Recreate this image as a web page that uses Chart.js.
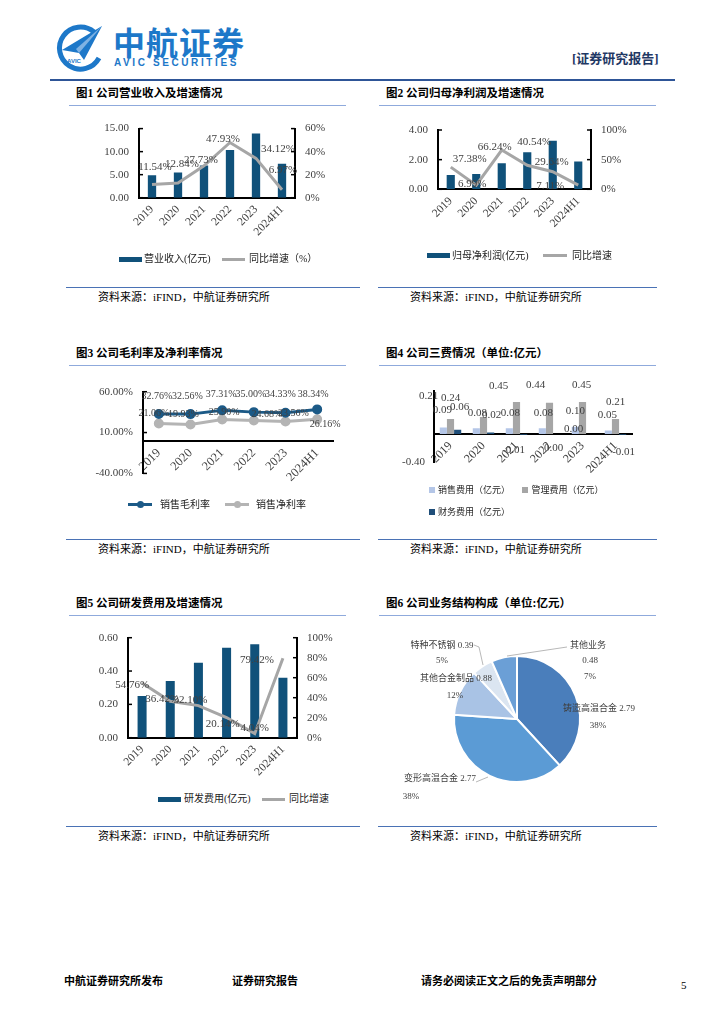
<!DOCTYPE html>
<html>
<head>
<meta charset="utf-8">
<script src="https://cdn.jsdelivr.net/npm/chart.js@4.4.1/dist/chart.umd.min.js"></script>
<style>
body{margin:0;width:724px;height:1024px;position:relative;background:#fff;overflow:hidden;
  font-family:"Liberation Serif","Noto Sans CJK SC",serif;color:#000}
.a{position:absolute;white-space:nowrap}
.t{font-weight:bold;font-size:11.5px;line-height:14px}
.src{font-size:11px;line-height:14px}
.lg{font-size:10px;line-height:12px;color:#222}
.rule{position:absolute;height:0}
.lt{border-top:1.5px solid #8faadc}
.dk{border-top:1px solid #4a72b5}
canvas{position:absolute}
.sw{position:absolute}
.dot{position:absolute;width:7px;height:7px;border-radius:50%}
.foot{font-size:11px;line-height:14px;font-weight:bold}
</style>
</head>
<body>

<!-- header -->
<svg class="a" style="left:54px;top:22px" width="52" height="52" viewBox="0 0 52 52">
  <path d="M40 10 A21 21 0 1 0 45 36" fill="none" stroke="#1d78c9" stroke-width="5"/>
  <path d="M8 28 L48 4 L30 38 L25 31 Z" fill="#1d78c9"/>
  <path d="M25 31 L48 4 L22 27 Z" fill="#7fb2e3"/>
  <text x="13" y="41" font-size="6" font-family="Liberation Sans" font-weight="bold" fill="#1d78c9">AVIC</text>
</svg>
<div class="a" style="left:113px;top:24px;font-family:'Noto Sans CJK SC';font-weight:bold;font-size:32px;line-height:34px;letter-spacing:1px;color:#1d78c9">中航证券</div>
<div class="a" style="left:114px;top:57px;font-family:'Liberation Sans';font-weight:bold;font-size:10px;line-height:12px;letter-spacing:2.6px;color:#1d78c9">AVIC SECURITIES</div>
<div class="a" style="left:572px;top:51px;font-weight:bold;font-size:13px;line-height:16px;color:#1f3864">[证券研究报告]</div>
<div class="rule" style="left:50px;top:79px;width:625px;border-top:2px solid #2e5597"></div>

<!-- titles -->
<div class="a t" style="left:76px;top:86px">图1 公司营业收入及增速情况</div>
<div class="a t" style="left:386px;top:86px">图2 公司归母净利润及增速情况</div>
<div class="a t" style="left:76px;top:346px">图3 公司毛利率及净利率情况</div>
<div class="a t" style="left:386px;top:346px">图4 公司三费情况（单位:亿元）</div>
<div class="a t" style="left:76px;top:596px">图5 公司研发费用及增速情况</div>
<div class="a t" style="left:386px;top:596px">图6 公司业务结构构成（单位:亿元）</div>

<div class="rule lt" style="left:69px;top:105px;width:277px"></div>
<div class="rule lt" style="left:379px;top:105px;width:277px"></div>
<div class="rule lt" style="left:69px;top:365px;width:277px"></div>
<div class="rule lt" style="left:379px;top:365px;width:277px"></div>
<div class="rule lt" style="left:69px;top:615px;width:277px"></div>
<div class="rule lt" style="left:379px;top:615px;width:277px"></div>

<!-- charts -->
<canvas id="c1" width="300" height="140" style="left:60px;top:112px"></canvas>
<canvas id="c2" width="300" height="140" style="left:370px;top:112px"></canvas>
<canvas id="c3" width="290" height="115" style="left:60px;top:375px"></canvas>
<canvas id="c4" width="290" height="103" style="left:370px;top:375px"></canvas>
<canvas id="c5" width="300" height="165" style="left:60px;top:620px"></canvas>
<canvas id="c6" width="250" height="170" style="left:395px;top:635px"></canvas>

<!-- legends -->
<div class="sw" style="left:119px;top:256.5px;width:23px;height:5px;background:#10517a"></div>
<div class="a lg" style="left:144px;top:253px">营业收入(亿元)</div>
<div class="sw" style="left:222px;top:257.5px;width:23px;height:3px;background:#a6a6a6"></div>
<div class="a lg" style="left:249px;top:253px">同比增速（%）</div>

<div class="sw" style="left:427px;top:253px;width:23px;height:5px;background:#10517a"></div>
<div class="a lg" style="left:452px;top:249.5px">归母净利润(亿元)</div>
<div class="sw" style="left:543px;top:254px;width:24px;height:3px;background:#a6a6a6"></div>
<div class="a lg" style="left:572px;top:249.5px">同比增速</div>

<div class="sw" style="left:128px;top:503px;width:24px;height:3px;background:#1c5a87"></div>
<div class="dot" style="left:136.5px;top:501px;background:#1c5a87"></div>
<div class="a lg" style="left:160px;top:498.5px">销售毛利率</div>
<div class="sw" style="left:225px;top:503px;width:24px;height:3px;background:#b4b4b4"></div>
<div class="dot" style="left:233.5px;top:501px;background:#b4b4b4"></div>
<div class="a lg" style="left:256px;top:498.5px">销售净利率</div>

<div class="sw" style="left:429px;top:487px;width:6px;height:6px;background:#b4c6e7"></div>
<div class="a lg" style="left:438px;top:484px;font-size:9px">销售费用（亿元）</div>
<div class="sw" style="left:522px;top:487px;width:6px;height:6px;background:#a6a6a6"></div>
<div class="a lg" style="left:531.5px;top:484px;font-size:9px">管理费用（亿元）</div>
<div class="sw" style="left:429px;top:508.5px;width:6px;height:6px;background:#1f4e79"></div>
<div class="a lg" style="left:438px;top:505.5px;font-size:9px">财务费用（亿元）</div>

<div class="sw" style="left:158px;top:796.5px;width:23px;height:5px;background:#10517a"></div>
<div class="a lg" style="left:184px;top:793px">研发费用(亿元)</div>
<div class="sw" style="left:262px;top:797.5px;width:23px;height:3px;background:#a6a6a6"></div>
<div class="a lg" style="left:289px;top:793px">同比增速</div>

<!-- sources -->
<div class="rule dk" style="left:66px;top:287px;width:294px"></div>
<div class="rule dk" style="left:378px;top:287px;width:279px"></div>
<div class="rule dk" style="left:66px;top:539px;width:294px"></div>
<div class="rule dk" style="left:378px;top:539px;width:279px"></div>
<div class="rule dk" style="left:66px;top:826px;width:294px"></div>
<div class="rule dk" style="left:378px;top:826px;width:279px"></div>
<div class="a src" style="left:98px;top:290px">资料来源：iFIND，中航证券研究所</div>
<div class="a src" style="left:410px;top:290px">资料来源：iFIND，中航证券研究所</div>
<div class="a src" style="left:98px;top:542px">资料来源：iFIND，中航证券研究所</div>
<div class="a src" style="left:410px;top:542px">资料来源：iFIND，中航证券研究所</div>
<div class="a src" style="left:98px;top:829px">资料来源：iFIND，中航证券研究所</div>
<div class="a src" style="left:410px;top:829px">资料来源：iFIND，中航证券研究所</div>

<!-- footer -->
<div class="a foot" style="left:64px;top:974px">中航证券研究所发布</div>
<div class="a foot" style="left:232px;top:974px">证券研究报告</div>
<div class="a foot" style="left:421px;top:974px">请务必阅读正文之后的免责声明部分</div>
<div class="a foot" style="left:681px;top:978px;font-weight:normal">5</div>

<script>
// ---- data ----
const years = ['2019', '2020', '2021', '2022', '2023', '2024H1'];
const revenue = [4.87, 5.49, 7.01, 10.37, 13.91, 7.35];
const revenueGrowth = [11.54, 12.84, 27.73, 47.93, 34.12, 6.97];
const netProfit = [0.97, 1.04, 1.76, 2.50, 3.27, 1.87];
const netProfitGrowth = [37.38, 6.99, 66.24, 40.54, 29.64, 7.11];
const grossMargin = [32.76, 32.56, 37.31, 35.00, 34.33, 38.34];
const netMargin = [21.06, 19.93, 25.90, 24.68, 23.56, 26.16];
const sellingExp = [0.09, 0.08, 0.08, 0.08, 0.10, 0.05];
const adminExp = [0.21, 0.24, 0.45, 0.44, 0.45, 0.21];
const financeExp = [0.06, 0.02, -0.01, 0.00, 0.00, -0.01];
const rdExp = [0.25, 0.34, 0.45, 0.54, 0.56, 0.36];
const rdGrowth = [54.76, 36.42, 32.10, 20.14, 4.04, 79.42];
const segNames = ['铸造高温合金', '变形高温合金', '其他合金制品', '特种不锈钢', '其他业务'];
const segValues = [2.79, 2.77, 0.88, 0.39, 0.48];

// label nudges (px), kept apart from the values
const c1Shift = [[3,-17],[4,-19],[-3,-6],[-7,-3],[22,-9],[1,-20]];
const c2Shift = [[19,-8],[-4,-1],[-7,-3],[7,-23],[-1,-10],[-28,1]];
const c3GrossShift = [[-2,-18],[-3,-18],[-1,-16],[-3,-18],[-5,-18],[-4,-15]];
const c3NetShift = [[-5,-10],[-7,-10],[2,-7],[13,-6],[8,-8],[8,5]];
const c4SellShift = [[-1,-17],[1,-15],[1,-15],[1,-15],[0,-16],[-1,-15]];
const c4AdminShift = [[-22,-23],[-33,-19],[-18,-16],[-14,-18],[-1,-17],[0,-17]];
const c4FinShift = [[2,-23],[1,-17],[-10,15],[-3,14],[-16,-5],[1,17]];
const c5Shift = [[-10,2],[-8,-2],[-8,-5],[-4,7],[0,-6],[-26,2]];
// pie label lines, relative to the pie centre
const pieTextPos = [
  [[82,-10],[81,7]],
  [[-77,60],[-106,78]],
  [[-61,-40],[-62,-23]],
  [[-75,-73],[-75,-58]],
  [[71,-73],[73,-58],[73,-42]]
];
const pieLeaders = [
  null,
  [[-41,63],[-29,58]],
  null,
  [[-43,-74],[-38,-72],[-34,-54]],
  [[50,-72],[-10,-63]]
];

const serif = '"Liberation Serif","Noto Sans CJK SC",serif';
const barBlue = '#10517a', lineGray = '#a6a6a6', txt = '#404040';
Chart.defaults.font.family = serif;
Chart.defaults.font.size = 11;
Chart.defaults.color = txt;

const fitTo = v => s => { if (s.isHorizontal()) s.height = v; else s.width = v; };

// tick marks drawn inward from the y axes
const innerTicks = {
  id: 'innerTicks',
  afterDraw(chart, args, opts) {
    if (!opts.len) return;
    const {ctx, chartArea} = chart;
    ctx.save();
    ctx.strokeStyle = '#000';
    ctx.lineWidth = 1.5;
    Object.values(chart.scales).forEach(s => {
      if (s.isHorizontal()) return;
      const left = s.position === 'left';
      const x = left ? chartArea.left : chartArea.right;
      s.ticks.forEach((t, i) => {
        const y = s.getPixelForTick(i);
        ctx.beginPath();
        ctx.moveTo(x, y);
        ctx.lineTo(x + (left ? 1 : -1) * opts.len, y);
        ctx.stroke();
      });
    });
    ctx.restore();
  }
};

// value labels next to points / bar ends
const valueLabels = {
  id: 'valueLabels',
  afterDatasetsDraw(chart) {
    const ctx = chart.ctx;
    chart.data.datasets.forEach((ds, di) => {
      if (!ds.valueText) return;
      const meta = chart.getDatasetMeta(di);
      ctx.save();
      ctx.font = ds.textFont || ('11px ' + serif);
      ctx.fillStyle = txt;
      ctx.textAlign = 'center';
      ctx.textBaseline = 'middle';
      meta.data.forEach((el, i) => {
        const sh = (ds.textShift && ds.textShift[i]) || [0, -12];
        ctx.fillText(ds.valueText[i], el.x + sh[0], el.y + sh[1]);
      });
      ctx.restore();
    });
  }
};

const pieLabels = {
  id: 'pieLabels',
  afterDatasetsDraw(chart) {
    const ctx = chart.ctx;
    const arc = chart.getDatasetMeta(0).data[0];
    const cx = arc.x, cy = arc.y;
    const vals = chart.data.datasets[0].data;
    const total = vals.reduce((a, b) => a + b, 0);
    ctx.save();
    ctx.strokeStyle = '#a6a6a6';
    ctx.lineWidth = 0.8;
    pieLeaders.forEach(pts => {
      if (!pts) return;
      ctx.beginPath();
      pts.forEach((p, k) => k ? ctx.lineTo(cx + p[0], cy + p[1]) : ctx.moveTo(cx + p[0], cy + p[1]));
      ctx.stroke();
    });
    ctx.font = '9px ' + serif;
    ctx.fillStyle = txt;
    ctx.textAlign = 'center';
    ctx.textBaseline = 'middle';
    vals.forEach((v, i) => {
      const pct = Math.round(v / total * 100) + '%';
      const name = chart.data.labels[i];
      const lines = pieTextPos[i].length === 3
        ? [name, v.toFixed(2), pct]
        : [name + ' ' + v.toFixed(2), pct];
      lines.forEach((s, k) => ctx.fillText(s, cx + pieTextPos[i][k][0], cy + pieTextPos[i][k][1]));
    });
    ctx.restore();
  }
};

const blackBorder = {color: '#000', width: 2};
const noGrid = {display: false, drawTicks: false};

function xAxis(h, size) {
  return {
    grid: noGrid, border: blackBorder,
    ticks: {minRotation: 45, maxRotation: 45, autoSkip: false, padding: 5, color: txt, font: {size: size || 11.5}},
    afterFit: h == null ? undefined : fitTo(h)
  };
}

function comboChart(id, bars, line, o) {
  return new Chart(document.getElementById(id), {
    type: 'bar',
    data: {
      labels: years,
      datasets: [
        {type: 'line', data: line, yAxisID: 'y1', borderColor: lineGray, borderWidth: 3,
         pointRadius: 0, order: 0, valueText: line.map(v => v.toFixed(2) + '%'), textShift: o.shift},
        {data: bars, backgroundColor: barBlue, yAxisID: 'y', categoryPercentage: 0.8, barPercentage: 0.4, order: 1}
      ]
    },
    options: {
      responsive: false, animation: false,
      layout: {padding: {top: o.top}},
      plugins: {legend: {display: false}, tooltip: {enabled: false}, innerTicks: {len: 4}},
      scales: {
        x: xAxis(o.xh),
        y: {position: 'left', min: 0, max: o.ymax, grid: noGrid, border: blackBorder,
            ticks: {stepSize: o.ystep, padding: 10, callback: v => v.toFixed(2)}, afterFit: fitTo(o.yw)},
        y1: {position: 'right', min: 0, max: o.y1max, grid: noGrid, border: blackBorder,
             ticks: {stepSize: o.y1step, padding: 10, callback: v => v + '%'}, afterFit: fitTo(o.y1w)}
      }
    },
    plugins: [innerTicks, valueLabels]
  });
}

comboChart('c1', revenue, revenueGrowth, {top: 15.7, xh: 54.3, yw: 79, y1w: 65, ymax: 15, ystep: 5, y1max: 60, y1step: 20, shift: c1Shift});
comboChart('c2', netProfit, netProfitGrowth, {top: 18, xh: 62.7, yw: 68, y1w: 79, ymax: 4, ystep: 2, y1max: 100, y1step: 50, shift: c2Shift});
comboChart('c5', rdExp, rdGrowth, {top: 17.7, xh: 47.3, yw: 68, y1w: 63, ymax: 0.6, ystep: 0.2, y1max: 100, y1step: 20, shift: c5Shift});

// 图3 margins
new Chart(document.getElementById('c3'), {
  type: 'line',
  data: {
    labels: years,
    datasets: [
      {data: grossMargin, borderColor: '#1c5a87', backgroundColor: '#1c5a87', borderWidth: 3,
       pointRadius: 3.5, valueText: grossMargin.map(v => v.toFixed(2) + '%'), textShift: c3GrossShift, textFont: '10px ' + serif},
      {data: netMargin, borderColor: '#b4b4b4', backgroundColor: '#b4b4b4', borderWidth: 3,
       pointRadius: 3.5, valueText: netMargin.map(v => v.toFixed(2) + '%'), textShift: c3NetShift, textFont: '10px ' + serif}
    ]
  },
  options: {
    responsive: false, animation: false,
    layout: {padding: {top: 16.7, right: 17, bottom: 13.3}},
    plugins: {legend: {display: false}, tooltip: {enabled: false}, innerTicks: {len: 4}},
    scales: {
      x: Object.assign(xAxis(null, 12.5), {position: {y: 0}, offset: true}),
      y: {min: -40, max: 60, grid: noGrid, border: blackBorder,
          ticks: {stepSize: 50, padding: 10, callback: v => v.toFixed(2) + '%'}, afterFit: fitTo(83)}
    }
  },
  plugins: [innerTicks, valueLabels]
});

// 图4 expenses
const fmt2 = arr => arr.map(v => v.toFixed(2));
new Chart(document.getElementById('c4'), {
  type: 'bar',
  data: {
    labels: years,
    datasets: [
      {data: sellingExp, backgroundColor: '#b4c6e7', valueText: fmt2(sellingExp), textShift: c4SellShift},
      {data: adminExp, backgroundColor: '#a6a6a6', valueText: fmt2(adminExp), textShift: c4AdminShift},
      {data: financeExp, backgroundColor: '#1f4e79', valueText: fmt2(financeExp), textShift: c4FinShift}
    ]
  },
  options: {
    responsive: false, animation: false,
    datasets: {bar: {categoryPercentage: 0.65, barPercentage: 1}},
    layout: {padding: {top: 16.3, right: 28, bottom: 13}},
    plugins: {legend: {display: false}, tooltip: {enabled: false}},
    scales: {
      x: Object.assign(xAxis(null, 12), {position: {y: 0}}),
      y: {min: -0.4, max: 0.6, grid: noGrid, border: blackBorder,
          ticks: {stepSize: 1, padding: 9, callback: v => v < -0.3 ? '-0.40' : ''}, afterFit: fitTo(64)}
    }
  },
  plugins: [valueLabels]
});

// 图6 business structure
new Chart(document.getElementById('c6'), {
  type: 'pie',
  data: {
    labels: segNames,
    datasets: [{
      data: segValues, radius: 63,
      backgroundColor: ['#4a7ebb', '#5b9bd5', '#a9c3e5', '#dbe5f1', '#6b9fd6'],
      borderColor: '#fff', borderWidth: 2
    }]
  },
  options: {
    responsive: false, animation: false,
    layout: {padding: {right: 6, bottom: 2}},
    plugins: {legend: {display: false}, tooltip: {enabled: false}}
  },
  plugins: [pieLabels]
});
</script>
</body>
</html>
